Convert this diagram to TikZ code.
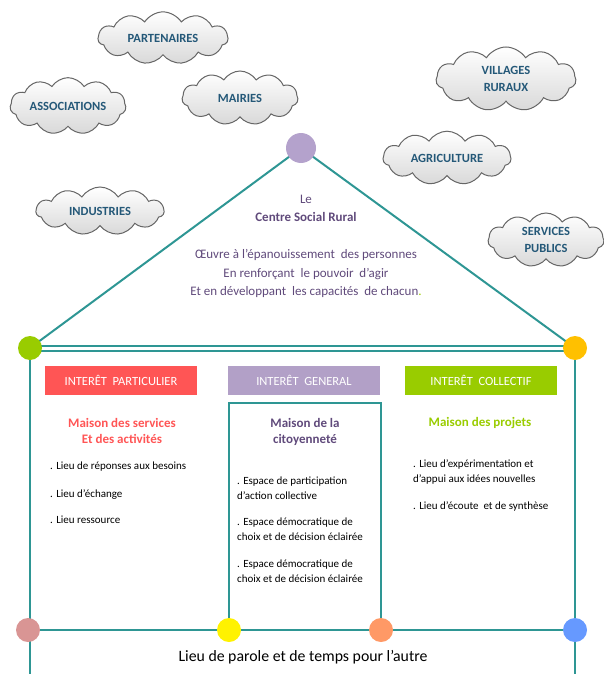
\documentclass[tikz,border=0pt]{standalone}
\usepackage{fontspec}
\setmainfont{Carlito}
\usetikzlibrary{shapes.symbols,shadings}
\definecolor{teal1}{RGB}{46,150,148}
\definecolor{cloudtxt}{RGB}{36,88,120}
\definecolor{purptxt}{RGB}{96,74,123}
\definecolor{redbox}{RGB}{255,85,85}
\definecolor{purbox}{RGB}{178,160,199}
\definecolor{grnbox}{RGB}{153,204,0}
\definecolor{apexc}{RGB}{180,162,204}
\definecolor{orangec}{RGB}{255,192,0}
\definecolor{pinkc}{RGB}{217,149,148}
\definecolor{salmonc}{RGB}{255,153,102}
\definecolor{bluec}{RGB}{102,153,255}
\begin{document}
\begin{tikzpicture}[x=1pt,y=-1pt,
  wolke/.style={cloud, cloud puffs=11, cloud puff arc=115, aspect=2.6, draw=gray!80!black, line width=1pt,
    top color=white, bottom color=gray!30, text=cloudtxt, font=\fontsize{12.5}{17}\selectfont\bfseries, align=center, inner sep=0pt},
  dot/.style={circle, minimum size=24pt, inner sep=0pt},
  hdr/.style={minimum width=152pt, minimum height=29pt, inner sep=0pt, text=white, font=\fontsize{12.5}{14}\selectfont},
  tline/.style={draw=teal1, line width=2pt},
  bullet/.style={anchor=north west, align=left, font=\fontsize{11}{14.5}\selectfont, inner sep=0pt},
  mtitle/.style={align=center, font=\fontsize{13}{16}\selectfont\bfseries, inner sep=0pt}]
\useasboundingbox (0,0) rectangle (603,674);

% clouds
\node[wolke, minimum width=130pt, minimum height=44pt] (partn) at (163,38) {PARTENAIRES};
\node[wolke, minimum width=116pt, minimum height=50pt] (assoc) at (68,106) {ASSOCIATIONS};
\node[wolke, minimum width=116pt, minimum height=54pt] (mairies) at (240,98) {MAIRIES};
\node[wolke, minimum width=128pt, minimum height=48pt] (indus) at (100,211) {INDUSTRIES};
\node[wolke, minimum width=140pt, minimum height=64pt] (villages) at (506,79) {VILLAGES\\RURAUX};
\node[wolke, minimum width=128pt, minimum height=48pt] (agri) at (447,158) {AGRICULTURE};
\node[wolke, minimum width=116pt, minimum height=54pt] (serv) at (546,240) {SERVICES\\PUBLICS};

% structure points
\coordinate (apex) at (301,148);
\coordinate (lc) at (30,348);
\coordinate (rc) at (575,348);
\coordinate (bl) at (30,630);
\coordinate (by) at (229,630);
\coordinate (bo) at (381,630);
\coordinate (br) at (575,630);
\coordinate (lend) at (30,674);
\coordinate (rend) at (575,674);
\coordinate (mtl) at (229,403);
\coordinate (mtr) at (381,403);

\draw[tline] (apex) -- (lc);
\draw[tline] (apex) -- (rc);
\draw[tline] ([yshift=-2.5pt]lc) -- ([yshift=-2.5pt]rc);
\draw[tline] ([yshift=2.5pt]lc) -- ([yshift=2.5pt]rc);
\draw[tline] (lc) -- (lend);
\draw[tline] (rc) -- (rend);
\draw[tline] (bl) -- (br);
\draw[tline] (by) -- (mtl) -- (mtr) -- (bo);

% dots on top
\node[dot, fill=apexc, minimum size=30pt] (apexdot) at (apex) {};
\node[dot, fill=grnbox] (lcdot) at (lc) {};
\node[dot, fill=orangec] (rcdot) at (rc) {};
\node[dot, fill=pinkc] (bldot) at (28,630) {};
\node[dot, fill=yellow] (bydot) at (by) {};
\node[dot, fill=salmonc] (bodot) at (bo) {};
\node[dot, fill=bluec] (brdot) at (br) {};

% roof text
\node[text=purptxt, font=\fontsize{13}{14}\selectfont] (le) at (306,199) {Le};
\node[text=purptxt, font=\fontsize{13}{14}\selectfont\bfseries] (csr) at (306,217) {Centre Social Rural};
\node[text=purptxt, font=\fontsize{13}{18.5}\selectfont, align=center] (mission) at (306,273.5)
  {Œuvre à l’épanouissement~ des personnes\\En renforçant~ le pouvoir~ d’agir\\Et en développant~ les capacités~ de chacun\textcolor{grnbox}{.}};

% headers
\node[hdr, fill=redbox] (h1) at (121,380.5) {INTERÊT~ PARTICULIER};
\node[hdr, fill=purbox] (h2) at (304,380.5) {INTERÊT~ GENERAL};
\node[hdr, fill=grnbox] (h3) at (481,380.5) {INTERÊT~ COLLECTIF};

% column 1
\node[mtitle, text=redbox] (t1) at (122,431) {Maison des services\\Et des activités};
\node[bullet] (b11) at (50,462) {. Lieu de réponses aux besoins};
\node[bullet] (b12) at (50,490) {. Lieu d’échange};
\node[bullet] (b13) at (50,516) {. Lieu ressource};

% column 2
\node[mtitle, text=purptxt] (t2) at (305,432) {Maison de la\\citoyenneté};
\node[bullet] (b21) at (237,477) {. Espace de participation\\d’action collective};
\node[bullet] (b22) at (237,518) {. Espace démocratique de\\choix et de décision éclairée};
\node[bullet] (b23) at (237,560) {. Espace démocratique de\\choix et de décision éclairée};

% column 3
\node[mtitle, text=grnbox] (t3) at (480,423) {Maison des projets};
\node[bullet] (b31) at (413,460) {. Lieu d’expérimentation et\\d’appui aux idées nouvelles};
\node[bullet] (b32) at (413,502) {. Lieu d’écoute~ et de synthèse};

% bottom
\node[font=\fontsize{15.8}{18}\selectfont] (bottom) at (303,657) {Lieu de parole et de temps pour l’autre};
\end{tikzpicture}
\end{document}
